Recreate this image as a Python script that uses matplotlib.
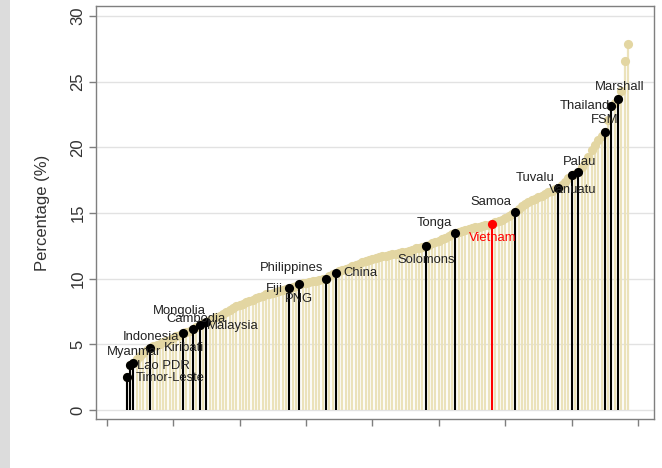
import numpy as np
import matplotlib
matplotlib.use("Agg")
import matplotlib.pyplot as plt
import matplotlib.patches as mpatches

plt.rcParams['font.family'] = ['Liberation Sans', 'DejaVu Sans']

# Percentage values for every country, sorted from lowest to highest.
first_rank = 6
values = [
    2.5, 3.45, 3.6, 3.85, 4.1, 4.3, 4.55, 4.75, 4.85, 4.95,
    5.05, 5.15, 5.25, 5.35, 5.5, 5.6, 5.7, 5.84, 5.95, 6.05,
    6.17, 6.3, 6.45, 6.6, 6.73, 6.85, 6.95, 7.05, 7.15, 7.3,
    7.45, 7.6, 7.75, 7.9, 8.0, 8.1, 8.2, 8.3, 8.4, 8.5,
    8.6, 8.7, 8.8, 8.85, 8.9, 8.95, 9.05, 9.1, 9.2, 9.27,
    9.35, 9.45, 9.57, 9.65, 9.7, 9.75, 9.8, 9.85, 9.9, 9.95,
    10.0, 10.2, 10.35, 10.46, 10.55, 10.65, 10.75, 10.85, 10.95, 11.05,
    11.15, 11.25, 11.35, 11.45, 11.5, 11.6, 11.65, 11.7, 11.75, 11.8,
    11.85, 11.9, 11.95, 12.0, 12.05, 12.1, 12.2, 12.3, 12.35, 12.4,
    12.5, 12.6, 12.7, 12.8, 12.9, 13.0, 13.1, 13.25, 13.4, 13.5,
    13.55, 13.6, 13.7, 13.75, 13.85, 13.9, 13.95, 14.0, 14.05, 14.1,
    14.2, 14.3, 14.4, 14.5, 14.65, 14.8, 14.95, 15.08, 15.3, 15.5,
    15.7, 15.85, 16.0, 16.1, 16.2, 16.3, 16.45, 16.6, 16.7, 16.8,
    16.88, 17.1, 17.4, 17.7, 17.9, 18.0, 18.1, 18.5, 18.9, 19.3,
    19.8, 20.2, 20.6, 20.9, 21.2, 22.1, 23.15, 23.4, 23.7, 24.3,
    26.6, 27.9,
]

# Highlighted countries and their position in the ranking.
highlight_names = [
    "Timor-Leste", "Myanmar", "Lao PDR", "Indonesia", "Kiribati", "Mongolia",
    "Cambodia", "Malaysia", "Fiji", "PNG", "Philippines", "China",
    "Solomons", "Tonga", "Vietnam", "Samoa", "Tuvalu", "Vanuatu",
    "Palau", "FSM", "Thailand", "Marshall",
]
highlight_ranks = [
    6, 7, 8, 13, 23, 26,
    28, 30, 55, 58, 66, 69,
    96, 105, 116, 123, 136, 140,
    142, 150, 152, 154,
]

# Label placement: (dx, dy) in pixels from the dot, and horizontal alignment.
label_style = {
    "Timor-Leste": (9, -1, "left"),
    "Myanmar": (4, 12.5, "center"),
    "Lao PDR": (4, -3, "left"),
    "Indonesia": (1, 11, "center"),
    "Kiribati": (1, -14.5, "center"),
    "Mongolia": (-14, 18, "center"),
    "Cambodia": (-4, 6, "center"),
    "Malaysia": (1, -4.5, "left"),
    "Fiji": (-6, -0.7, "right"),
    "PNG": (0, -15, "center"),
    "Philippines": (-3, 10.4, "right"),
    "China": (8, -0.6, "left"),
    "Solomons": (1, -14.3, "center"),
    "Tonga": (-3.5, 9.4, "right"),
    "Vietnam": (0.7, -14.4, "center"),
    "Samoa": (-3.5, 9.7, "right"),
    "Tuvalu": (-3.5, 10, "right"),
    "Vanuatu": (1.3, -15, "center"),
    "Palau": (1, 10.6, "center"),
    "FSM": (0.3, 11.3, "center"),
    "Thailand": (-2, 0, "right"),
    "Marshall": (1.7, 11.4, "center"),
}

BEIGE_STEM = "#ebe2bb"
BEIGE_DOT = "#e3d6a2"
AXIS_GRAY = "#7f7f7f"


def draw_chart():
    vals = np.array(values)
    ranks = np.arange(first_rank, first_rank + len(vals))

    fig = plt.figure(figsize=(6.62, 4.68), dpi=100)
    # grey strip along the left edge of the figure
    fig.add_artist(mpatches.Rectangle((0, 0), 10 / 662, 1, transform=fig.transFigure,
                                      facecolor="#dcdcdc", edgecolor="none"))
    ax = fig.add_axes([96 / 662, 1 - 419 / 468, 558 / 662, 413 / 468])

    # all countries: pale stems with dots
    ax.vlines(ranks, 0, vals, color=BEIGE_STEM, lw=1.6, zorder=2)
    ax.plot(ranks, vals, "o", color=BEIGE_DOT, ms=6.6, mec="none", zorder=3)

    # highlighted countries in black, Vietnam in red
    for name, r in zip(highlight_names, highlight_ranks):
        v = vals[r - first_rank]
        col = "#ff0000" if name == "Vietnam" else "black"
        ax.vlines(r, 0, v, color=col, lw=1.5, zorder=4)
        ax.plot(r, v, "o", color=col, ms=6.6, mec="none", zorder=5)
        dx, dy, ha = label_style[name]
        txt_col = "#ff0000" if name == "Vietnam" else "#222222"
        ax.annotate(name, (r, v), xytext=(dx, dy), textcoords="offset pixels",
                    ha=ha, va="center", fontsize=9.4, color=txt_col, zorder=6)

    ax.set_xlim(-3.22, 164.8)
    ax.set_ylim(-0.69, 30.77)
    ax.set_xticks(np.arange(0, 161, 20))
    ax.set_xticklabels([])
    ax.set_yticks(np.arange(0, 31, 5))
    ax.grid(axis="y", color="#e2e2e2", lw=1.0, zorder=1)
    ax.set_axisbelow(True)

    for sp in ax.spines.values():
        sp.set_color(AXIS_GRAY)
        sp.set_linewidth(1.0)
    ax.tick_params(axis="both", direction="out", color=AXIS_GRAY, width=1.0,
                   length=5, labelsize=12, labelcolor="#333333")
    ax.tick_params(axis="x", pad=0)
    ax.tick_params(axis="y", pad=2.5)
    for lbl in ax.get_yticklabels():
        lbl.set_rotation(90)
        lbl.set_va("center")

    fig.text(43 / 662, 1 - 212.5 / 468, "Percentage (%)", rotation=90,
             ha="center", va="center", fontsize=12, color="#333333")

    fig.savefig("out.png", dpi=100)


if __name__ == "__main__":
    draw_chart()
